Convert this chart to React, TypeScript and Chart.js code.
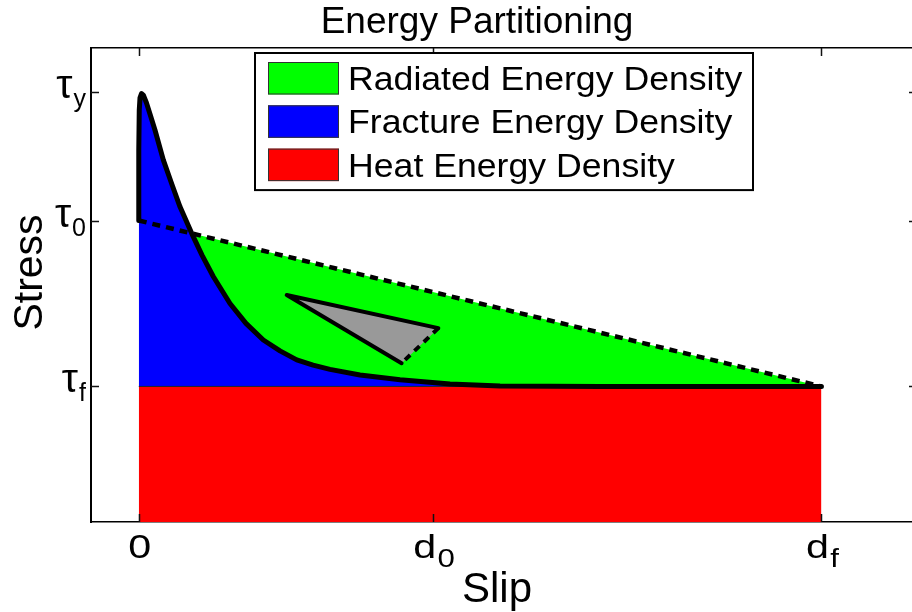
import React, { useEffect, useRef } from 'react';
import { Chart, registerables } from 'chart.js';

Chart.register(...registerables);

const FONT = '"Liberation Sans", Arial, Helvetica, sans-serif';

const chartTitle = 'Energy Partitioning';
const xAxisTitle = 'Slip';
const yAxisTitle = 'Stress';

// axis ticks (values + symbolic labels with subscripts)
const xTickValues = [0, 0.431, 1];
const xTickMain = ['0', 'd', 'd'];
const xTickSub = ['', '0', 'f'];
const yTickValues = [0.286, 0.636, 0.908];
const yTickMain = ['τ', 'τ', 'τ'];
const yTickSub = ['f', '0', 'y'];

// stress-slip curve
const curveSlip = [
  0, 0, 0.0007, 0.0018, 0.004, 0.0069, 0.0113, 0.0164, 0.0237, 0.0359,
  0.0486, 0.0604, 0.0775, 0.0926, 0.1091, 0.1336, 0.157, 0.1824, 0.2069,
  0.2314, 0.2553, 0.2801, 0.3241, 0.3827, 0.4559, 0.5292, 0.6757, 1,
];
const curveStress = [
  0.636, 0.785, 0.869, 0.895, 0.904, 0.9, 0.884, 0.861, 0.827, 0.764,
  0.712, 0.665, 0.609, 0.563, 0.518, 0.461, 0.419, 0.384, 0.361,
  0.342, 0.331, 0.322, 0.31, 0.3, 0.291, 0.287, 0.286, 0.286,
];

// linear weakening (dashed) line
const weakSlip = [0, 1];
const weakStress = [0.636, 0.286];

// residual (heat) level
const heatSlip = [0, 1];
const heatStress = [0.286, 0.286];

// gray pointer triangle
const triSlip = [0.385, 0.2167, 0.4388, 0.385];
const triStress = [0.335, 0.479, 0.409, 0.335];

const seriesLabels = ['Radiated Energy Density', 'Fracture Energy Density', 'Heat Energy Density'];
const seriesColors = ['#00ff00', '#0000ff', '#ff0000'];

const pts = (xs: number[], ys: number[]) => xs.map((x, i) => ({ x, y: ys[i] }));

const decorPlugin = {
  id: 'decor',
  afterDatasetsDraw(chart: any) {
    const { ctx, chartArea: a, scales } = chart;
    const xs = scales.x;
    const ys = scales.y;
    ctx.save();
    ctx.strokeStyle = '#111';
    ctx.lineWidth = 1.5;
    ctx.beginPath();
    xTickValues.forEach((v) => {
      const px = Math.round(xs.getPixelForValue(v)) + 0.5;
      ctx.moveTo(px, a.bottom);
      ctx.lineTo(px, a.bottom - 8);
      ctx.moveTo(px, a.top);
      ctx.lineTo(px, a.top + 8);
    });
    yTickValues.forEach((v) => {
      const py = Math.round(ys.getPixelForValue(v)) + 0.5;
      ctx.moveTo(a.left, py);
      ctx.lineTo(a.left + 8, py);
      ctx.moveTo(a.right, py);
      ctx.lineTo(a.right - 8, py);
    });
    ctx.stroke();
    ctx.restore();
  },
  afterDraw(chart: any) {
    const { ctx, chartArea: a, scales } = chart;
    const xs = scales.x;
    const ys = scales.y;
    ctx.save();
    ctx.fillStyle = '#000';
    ctx.textAlign = 'left';
    ctx.textBaseline = 'alphabetic';

    const drawSub = (
      main: string, sub: string, mainSize: number, subSize: number,
      x: number, base: number, subBase: number, align: 'center' | 'right', sx: number
    ) => {
      ctx.font = `${mainSize}px ${FONT}`;
      const wm = ctx.measureText(main).width * sx;
      ctx.font = `${subSize}px ${FONT}`;
      const ws = sub ? (ctx.measureText(sub).width + 1) * sx : 0;
      const total = wm + ws;
      const left = align === 'center' ? x - total / 2 : x - total;
      ctx.save();
      ctx.translate(left, base);
      ctx.scale(sx, 1);
      ctx.font = `${mainSize}px ${FONT}`;
      ctx.fillText(main, 0, 0);
      ctx.restore();
      if (sub) {
        ctx.save();
        ctx.translate(left + wm + sx, subBase);
        ctx.scale(sx, 1);
        ctx.font = `${subSize}px ${FONT}`;
        ctx.fillText(sub, 0, 0);
        ctx.restore();
      }
    };

    // x tick labels
    xTickValues.forEach((v, i) => {
      const px = xs.getPixelForValue(v);
      drawSub(xTickMain[i], xTickSub[i], 33, 25, px + 1, a.bottom + 36, a.bottom + 45, 'center', 1.25);
    });
    // y tick labels
    yTickValues.forEach((v, i) => {
      const py = ys.getPixelForValue(v);
      drawSub(yTickMain[i], yTickSub[i], 41, 25, a.left - 5, py + 6, py + 15, 'right', 1);
    });

    // title
    ctx.textAlign = 'center';
    ctx.font = `37px ${FONT}`;
    ctx.fillText(chartTitle, 477, 33);
    // x label
    ctx.font = `42px ${FONT}`;
    ctx.fillText(xAxisTitle, 497, 602);
    // y label
    ctx.save();
    ctx.translate(42, 272.5);
    ctx.rotate(-Math.PI / 2);
    ctx.font = `41px ${FONT}`;
    ctx.fillText(yAxisTitle, 0, 0);
    ctx.restore();

    // legend (MATLAB style, inside axes, north)
    const items = chart.data.datasets.filter((d: any) => d.label);
    const boxL = 255, boxT = 53, boxR = 753;
    const rowH = 43.3, patchH = 32.5;
    const boxB = boxT + 9 + items.length * rowH - (rowH - patchH) + 9;
    ctx.fillStyle = '#fff';
    ctx.fillRect(boxL, boxT, boxR - boxL, boxB - boxT);
    ctx.strokeStyle = '#000';
    ctx.lineWidth = 2;
    ctx.strokeRect(boxL, boxT, boxR - boxL, boxB - boxT);
    items.forEach((d: any, i: number) => {
      const top = boxT + 9 + i * rowH;
      ctx.fillStyle = d.legendColor;
      ctx.fillRect(268, top, 71, patchH);
      ctx.strokeStyle = '#333';
      ctx.lineWidth = 1;
      ctx.strokeRect(268.5, top + 0.5, 70, patchH - 1);
      ctx.fillStyle = '#000';
      ctx.textAlign = 'left';
      ctx.font = `33px ${FONT}`;
      ctx.save();
      ctx.translate(348, top + patchH / 2 + 11.7);
      ctx.scale(1.08, 1);
      ctx.fillText(d.label, 0, 0);
      ctx.restore();
    });
    ctx.restore();
  },
};

export default function App() {
  const ref = useRef<HTMLCanvasElement>(null);

  useEffect(() => {
    const hiddenScale = (position: string, min: number, max: number, bw: number) => ({
      type: 'linear' as const,
      position,
      min,
      max,
      ticks: { display: false },
      grid: { display: false, drawTicks: false },
      border: { display: true, color: '#000', width: bw },
    });

    const chart = new Chart(ref.current!, {
      type: 'line',
      data: {
        datasets: [
          {
            label: seriesLabels[0],
            legendColor: seriesColors[0],
            data: pts(weakSlip, weakStress),
            borderColor: '#000',
            borderWidth: 4.5,
            borderDash: [8, 6],
            backgroundColor: seriesColors[0],
            fill: { target: 1, above: seriesColors[0], below: 'rgba(0,0,0,0)' },
            pointRadius: 0,
            order: 1,
          },
          {
            label: seriesLabels[1],
            legendColor: seriesColors[1],
            data: pts(curveSlip, curveStress),
            borderColor: '#000',
            borderWidth: 5,
            backgroundColor: seriesColors[1],
            fill: { value: heatStress[0] },
            pointRadius: 0,
            borderJoinStyle: 'round',
            borderCapStyle: 'round',
            order: 2,
          },
          {
            label: seriesLabels[2],
            legendColor: seriesColors[2],
            data: pts(heatSlip, heatStress),
            borderColor: '#222',
            borderWidth: 1,
            backgroundColor: seriesColors[2],
            fill: 'origin',
            pointRadius: 0,
            order: 3,
          },
          {
            label: '',
            data: pts(triSlip, triStress),
            borderColor: '#000',
            borderWidth: 4,
            backgroundColor: '#999999',
            fill: 'shape',
            pointRadius: 0,
            borderJoinStyle: 'round',
            borderCapStyle: 'round',
            segment: {
              borderDash: (c: any) => (c.p0DataIndex === 2 ? [7, 6] : undefined),
              borderCapStyle: (c: any) => (c.p0DataIndex === 2 ? 'butt' : 'round'),
            },
            order: 0,
          },
        ] as any,
      },
      options: {
        responsive: false,
        animation: false,
        devicePixelRatio: 1,
        events: [],
        layout: { padding: { left: 91, top: 48, right: 13, bottom: 90 } },
        plugins: {
          legend: { display: false },
          title: { display: false },
          tooltip: { enabled: false },
          filler: { drawTime: 'beforeDatasetsDraw', propagate: false },
        } as any,
        scales: {
          x: hiddenScale('bottom', -0.07, 1.14, 1.5),
          x2: hiddenScale('top', -0.07, 1.14, 1.5),
          y: hiddenScale('left', 0, 1, 2),
          y2: hiddenScale('right', 0, 1, 1.5),
        } as any,
      },
      plugins: [decorPlugin],
    });
    return () => chart.destroy();
  }, []);

  return (
    <div
      style={{
        position: 'absolute',
        left: 0,
        top: 0,
        width: 912,
        height: 612,
        overflow: 'hidden',
        background: '#fff',
      }}
    >
      <canvas ref={ref} width={930} height={612} style={{ display: 'block' }} />
    </div>
  );
}
